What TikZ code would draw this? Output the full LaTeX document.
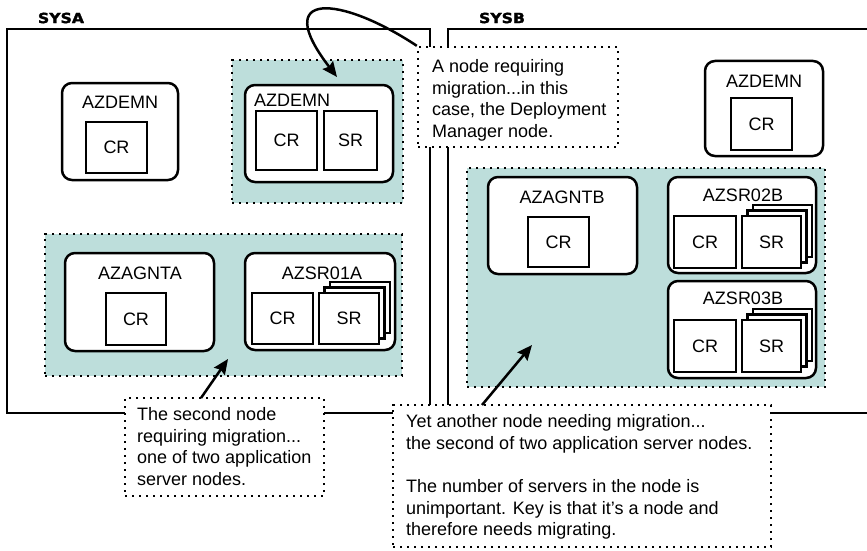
\documentclass[tikz,border=0pt]{standalone}
\usepackage{fontspec}
\setmainfont{Liberation Sans}
\newfontfamily\hdfont{DejaVu Sans}[FakeStretch=1.12, FakeBold=2]
\usetikzlibrary{arrows.meta,calc}
\definecolor{grpfill}{HTML}{BDDEDB}
\tikzset{
  sz/.style 2 args={minimum width=#1pt, minimum height=#2pt},
  txt/.style={font=\fontsize{18}{21.6}\selectfont, inner sep=0pt},
  frameline/.style={line width=2.5pt},
  grp/.style={draw, fill=grpfill, line width=2.4pt, dash pattern=on 2.4pt off 4.6pt, inner sep=0pt},
  nodebox/.style={draw, fill=white, rounded corners=10pt, line width=2.5pt, inner sep=0pt},
  crbox/.style={draw, fill=white, line width=2.5pt, inner sep=0pt, font=\fontsize{18}{21.6}\selectfont},
  callout/.style={draw, fill=white, line width=2.4pt, dash pattern=on 2.4pt off 4.6pt, inner sep=0pt},
  ctext/.style={font=\fontsize{18}{21.6}\selectfont, inner sep=0pt, align=left, anchor=north west},
  sysl/.style={font=\hdfont\bfseries\fontsize{14}{14}\selectfont, inner sep=0pt},
  arr/.style={line width=2.5pt, -{Stealth[length=15pt, width=13pt, inset=2pt]}}
}
\begin{document}
\begin{tikzpicture}[x=1pt, y=-1pt]
\useasboundingbox (0,0) rectangle (867,551);
% system frames
\node[sysl] (sysal) at (61,18) {SYSA};
\node[sysl] (sysbl) at (502,18) {SYSB};
\node[draw, frameline, sz={423}{384}, inner sep=0pt] (sysa) at (218.5,221) {};
\draw[frameline] (867,29) -| (448,413) -- (867,413);
% SYSA stand-alone AZDEMN
\node[nodebox, sz={116}{97}] (a1) at (120,131.5) {};
\node[txt] (a1t) at (120,102) {AZDEMN};
\node[crbox, sz={61}{51}] (a1cr) at (116.5,147.5) {CR};
% SYSA group 1
\node[grp, sz={171}{143}] (g1) at (317.5,131.5) {};
\node[nodebox, sz={148}{97}] (a2) at (319,133.5) {};
\node[txt] (a2t) at (292,100) {AZDEMN};
\node[crbox, sz={61}{59}] (a2cr) at (286.5,140.5) {CR};
\node[crbox, sz={53}{59}] (a2sr) at (350.5,140.5) {SR};
% SYSA group 2
\node[grp, sz={357}{142}] (g2) at (223.5,305) {};
\node[nodebox, sz={149}{98}] (a3) at (139.5,302) {};
\node[txt] (a3t) at (140,273) {AZAGNTA};
\node[crbox, sz={60}{52}] (a3cr) at (136,319) {CR};
\node[nodebox, sz={150}{97}] (a4) at (320,301.5) {};
\node[txt] (a4t) at (322,273) {AZSR01A};
\node[crbox, sz={61}{51}] (a4cr) at (282.5,318.5) {CR};
\node[crbox, sz={60}{51}] (a4s3) at (360,307.5) {};
\node[crbox, sz={60}{51}] (a4s2) at (354.5,313) {};
\node[crbox, sz={60}{51}] (a4sr) at (349,318.5) {SR};
% SYSB stand-alone AZDEMN
\node[nodebox, sz={118}{95}] (b1) at (764,108.5) {};
\node[txt] (b1t) at (764,81) {AZDEMN};
\node[crbox, sz={61}{52}] (b1cr) at (761.5,124) {CR};
% SYSB group
\node[grp, sz={358}{219}] (g3) at (646,277.5) {};
\node[nodebox, sz={149}{97}] (b2) at (562.5,225.5) {};
\node[txt] (b2t) at (562,197) {AZAGNTB};
\node[crbox, sz={61}{50}] (b2cr) at (558.5,242) {CR};
\node[nodebox, sz={148}{96}] (b3) at (742,225) {};
\node[txt] (b3t) at (743,195) {AZSR02B};
\node[crbox, sz={62}{52}] (b3cr) at (705,242) {CR};
\node[crbox, sz={59}{52}] (b3s3) at (782.5,231) {};
\node[crbox, sz={59}{52}] (b3s2) at (777,236.5) {};
\node[crbox, sz={59}{52}] (b3sr) at (771.5,242) {SR};
\node[nodebox, sz={148}{97}] (b4) at (742,329.5) {};
\node[txt] (b4t) at (743,298) {AZSR03B};
\node[crbox, sz={62}{52}] (b4cr) at (705,346) {CR};
\node[crbox, sz={59}{52}] (b4s3) at (782.5,335) {};
\node[crbox, sz={59}{52}] (b4s2) at (777,340.5) {};
\node[crbox, sz={59}{52}] (b4sr) at (771.5,346) {SR};
% callouts
\node[callout, sz={200}{100}] (c1) at (518,97) {};
\node[ctext] (c1t) at (432,59.5) {A node requiring\\migration...in this\\case, the Deployment\\Manager node.};
\node[callout, sz={199}{98}] (c2) at (224.5,447) {};
\node[ctext] (c2t) at (137,407.5) {The second node\\requiring migration...\\one of two application\\server nodes.};
\node[callout, sz={378}{142}] (c3) at (582,476) {};
\node[ctext] (c3t) at (406,414.5) {Yet another node needing migration...\\the second of two application server nodes.\\[21.6pt]The number of servers in the node is\\unimportant. Key is that it’s a node and\\therefore needs migrating.};
% arrows
\coordinate (tip1) at (337,77);
\coordinate (t2) at (201,398);
\coordinate (tip2) at (228,359);
\coordinate (t3) at (482,405);
\coordinate (tip3) at (532,345);
\draw[arr] (c1.north west) .. controls (340,-5) and (270,-10) .. (tip1);
\draw[arr] (t2) -- (tip2);
\draw[arr] (t3) -- (tip3);
\end{tikzpicture}
\end{document}
